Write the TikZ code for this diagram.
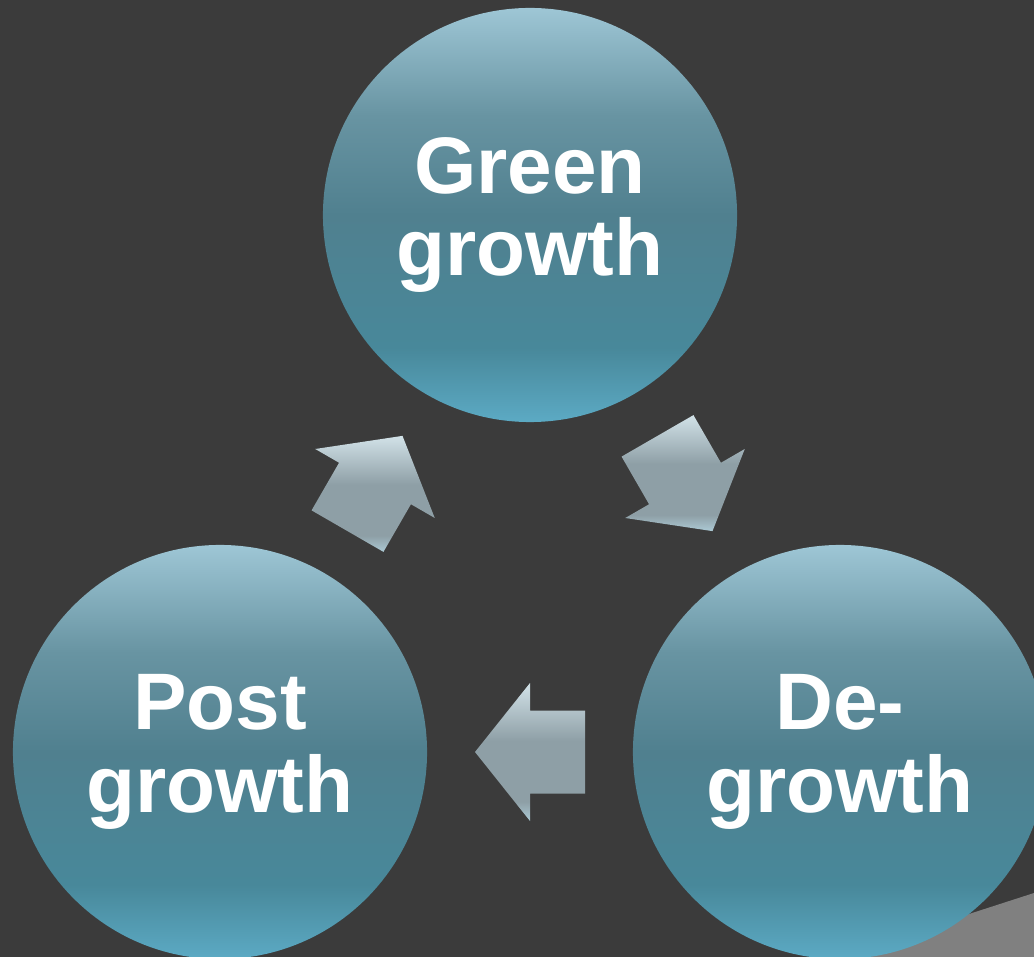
\documentclass[tikz,border=0pt]{standalone}
\usepackage{fontspec}
\setmainfont{Liberation Sans}
\usetikzlibrary{calc}

\definecolor{bgcol}{RGB}{59,59,59}
\definecolor{foldcol}{RGB}{128,128,128}
\definecolor{balltop}{RGB}{158,198,213}
\definecolor{ballupper}{RGB}{104,148,162}
\definecolor{ballmid}{RGB}{80,128,143}
\definecolor{balllow}{RGB}{72,136,154}
\definecolor{ballbot}{RGB}{92,170,196}
\definecolor{arrtop}{RGB}{210,226,232}
\definecolor{arrmid}{RGB}{142,159,166}
\definecolor{arrbot}{RGB}{172,202,213}

% 25bp = bottom of the shape, 75bp = top
\pgfdeclareverticalshading{ballshade}{100bp}{color(0bp)=(ballbot); color(25bp)=(ballbot);
  color(34bp)=(balllow); color(50bp)=(ballmid); color(62bp)=(ballupper);
  color(75bp)=(balltop); color(100bp)=(balltop)}
\pgfdeclareverticalshading{arrowshade}{100bp}{color(0bp)=(arrbot); color(25bp)=(arrbot);
  color(32bp)=(arrmid); color(54bp)=(arrmid); color(75bp)=(arrtop); color(100bp)=(arrtop)}

% block arrow: #1 name, #2 centre, #3 direction
\def\cycarrow#1#2#3{%
  \begin{scope}[shift={(#2)},rotate=#3]
    \coordinate (#1-tip) at (55,0);
    \coordinate (#1-hl) at (0,69);
    \coordinate (#1-sl) at (0,41.5);
    \coordinate (#1-bl) at (-55,41.5);
    \coordinate (#1-br) at (-55,-41.5);
    \coordinate (#1-sr) at (0,-41.5);
    \coordinate (#1-hr) at (0,-69);
  \end{scope}
  \shade[shading=arrowshade] (#1-tip) -- (#1-hl) -- (#1-sl) -- (#1-bl)
    -- (#1-br) -- (#1-sr) -- (#1-hr) -- cycle;
}

\begin{document}
\begin{tikzpicture}[x=0.025cm,y=-0.025cm,
    ball/.style={circle,minimum size=10.35cm,inner sep=0pt,shading=ballshade,
      text=white,align=center,font=\bfseries\fontsize{57}{59}\selectfont}]

\fill[bgcol] (0,0) rectangle (1034,957);
\useasboundingbox (0,0) rectangle (1034,957);

\fill[foldcol] (1034,893) -- (836,957) -- (1034,957) -- cycle;% page corner

\node[ball] (green) at (530,215) {Green\\growth};
\node[ball] (post) at (220,752) {Post\\growth};
\node[ball] (de) at (840,752) {De-\\growth};

\cycarrow{gd}{$(green)!0.5!(de)$}{-60}
\cycarrow{dp}{$(de)!0.5!(post)$}{180}
\cycarrow{pg}{$(post)!0.5!(green)$}{60}

\end{tikzpicture}
\end{document}
